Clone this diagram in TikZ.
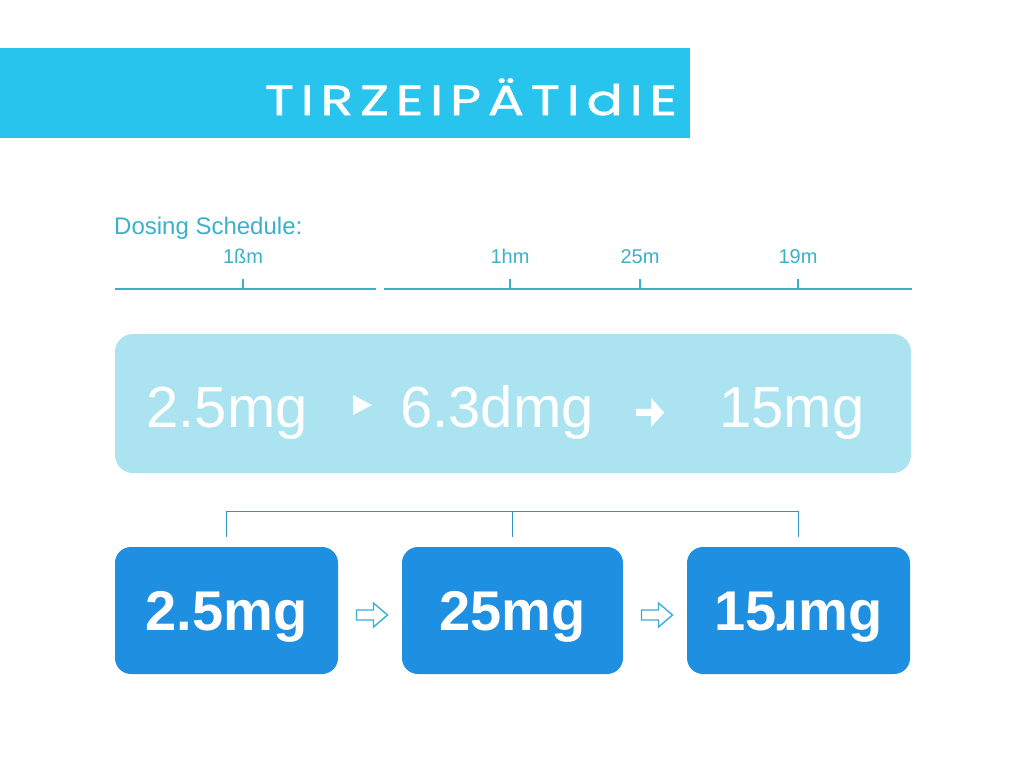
\documentclass[tikz,border=0pt]{standalone}
\usepackage{fontspec}
\setmainfont{Liberation Sans}
\newfontfamily\titlefont[LetterSpace=16, FakeStretch=1.28, FakeBold=1.2]{Poppins}
\usetikzlibrary{positioning,calc,arrows.meta}

\definecolor{titlecyan}{HTML}{29C4EE}
\definecolor{schedteal}{HTML}{3BB0CC}
\definecolor{bandblue}{HTML}{ABE3F1}
\definecolor{doseblue}{HTML}{1E8FE1}
\definecolor{bracketblue}{HTML}{3294C6}
\definecolor{arrowblue}{HTML}{3AAFD8}

\begin{document}
\begin{tikzpicture}[x=1pt, y=-1pt,
  band/.style={rectangle, rounded corners=18pt, fill=bandblue, minimum width=796pt, minimum height=139pt},
  dosebox/.style={rectangle, rounded corners=16pt, fill=doseblue, minimum height=127pt, text=white,
    text height=39pt, text depth=0pt, font=\bfseries\fontsize{56}{56}\selectfont},
  bandtext/.style={inner sep=0pt, anchor=base, text=white, font=\fontsize{58}{58}\selectfont},
  ticklabel/.style={inner sep=0pt, anchor=base, text=schedteal, font=\fontsize{20}{20}\selectfont},
  hollowarrow/.style={draw=arrowblue, line width=1.4pt, fill=white, line join=miter},
  bracket/.style={draw=bracketblue, line width=1.3pt}]
  \useasboundingbox (0,0) rectangle (1024,768);
  \fill[white] (0,0) rectangle (1024,768);

  % title bar
  \fill[titlecyan] (0,48) rectangle (690,138);
  \node[anchor=base, text=white, inner sep=0pt, font=\titlefont\fontsize{42}{42}\selectfont] (title) at (471,115) {TIRZEIPÄTIdIE};

  % schedule and timeline
  \node[anchor=west, inner sep=0pt, text=schedteal, font=\fontsize{24}{24}\selectfont] (sched) at (114,228) {Dosing Schedule:};
  \coordinate (tl1) at (115,289);
  \coordinate (tr1) at (376,289);
  \coordinate (tl2) at (384,289);
  \coordinate (tr2) at (912,289);
  \draw[schedteal, line width=1.3pt] (tl1) -- (tr1);
  \draw[schedteal, line width=1.3pt] (tl2) -- (tr2);
  \foreach \x/\lab/\n in {243/1ßm/a, 510/1hm/b, 640/25m/c, 798/19m/d} {
    \coordinate (tick\n) at (\x,289);
    \draw[schedteal, line width=1.3pt] (tick\n) -- ++(0pt,10pt);
    \node[ticklabel] (lab\n) at (\x,263) {\lab};
  }

  % light band
  \node[band] (band) at (513,403.5) {};
  \node[bandtext] (bt1) at (227,427) {2.5mg};
  \node[bandtext] (bt2) at (497,427) {6.3dmg};
  \node[bandtext] (bt3) at (792,427) {15mg};
  \fill[white] (353,395) -- ++(19,10) -- ++(-19,10) -- cycle;
  \draw[white, line width=7pt, -{Triangle[length=13pt, width=28pt]}, shorten <=42pt, shorten >=55pt] (bt2.east) -- (bt3.west);

  % dose boxes
  \node[dosebox, minimum width=223pt] (b1) at (226.5,610.5) {2.5mg};
  \node[dosebox, minimum width=221pt] (b2) at (512.5,610.5) {25mg};
  \node[dosebox, minimum width=223pt] (b3) at (798.5,610.5) {15ɹmg};
  \coordinate (m1) at ($(b1.east)!0.5!(b2.west)+(1.5,4.5)$);
  \coordinate (m2) at ($(b2.east)!0.5!(b3.west)+(1.5,4.5)$);
  \foreach \m in {m1, m2}
    \draw[hollowarrow] ($(\m)+(-15,-5)$) -- ++(17,0) -- ++(0,-7) -- ++(14,12) -- ++(-14,12) -- ++(0,-7) -- ++(-17,0) -- cycle;

  % bracket over boxes
  \draw[bracket] ([yshift=10pt]b1.north) -- ++(0pt,25pt) -| ([yshift=10pt]b3.north);
  \draw[bracket] ([yshift=10pt]b2.north) -- ++(0pt,25pt);
\end{tikzpicture}
\end{document}
